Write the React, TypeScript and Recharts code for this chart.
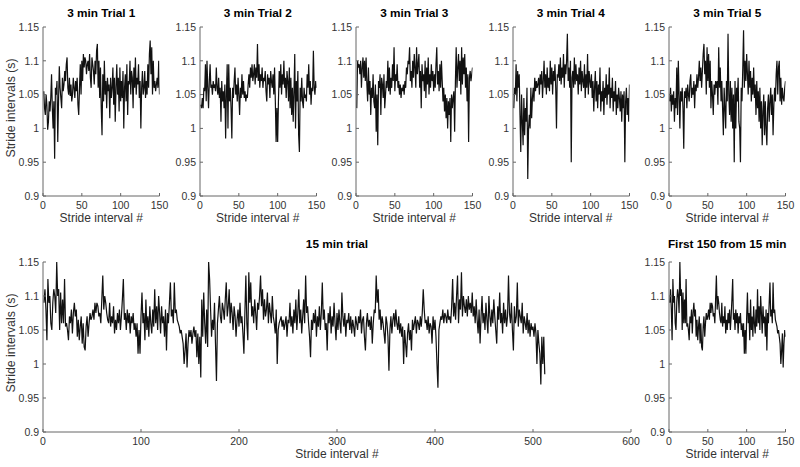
import { LineChart, Line, XAxis, YAxis } from "recharts";

// stride intervals, in milliseconds
const trial1 = [
  1055, 1030, 1020, 1050, 1035, 998, 1010, 1040, 1025, 1045,
  1080, 1030, 1000, 1040, 955, 1060, 1050, 1070, 980, 1040,
  1092, 1060, 1045, 1030, 1075, 1055, 1065, 1085, 1070, 1095,
  1105, 1060, 1050, 1075, 1048, 1065, 1040, 1050, 1075, 1060,
  1045, 1070, 1055, 1075, 1035, 1020, 1060, 1095, 1050, 1100,
  1070, 1110, 1090, 1105, 1100, 1080, 1095, 1100, 1085, 1110,
  1075, 1060, 1105, 1095, 1085, 1065, 1100, 1080, 1115, 1125,
  1060, 1100, 1045, 1090, 1030, 990, 1080, 1040, 1100, 1050,
  1070, 1030, 1075, 1055, 1065, 1015, 1075, 1045, 1060, 1090,
  1035, 1075, 1010, 1060, 1095, 1050, 1075, 1025, 1090, 1040,
  1070, 1045, 1085, 1000, 1060, 1080, 1040, 1095, 1020, 1070,
  1065, 1100, 1050, 1085, 1075, 1030, 1090, 1060, 1105, 1050,
  1075, 1065, 1095, 1045, 1070, 1000, 1060, 1085, 1050, 1060,
  1085, 1045, 1070, 1050, 1095, 1060, 1110, 1130, 1080, 1120,
  1050, 1100, 1060, 1070, 1055, 1065, 1075, 1060, 1100, 1050,
];

const trial2 = [
  1035, 1030, 1045, 1030, 1060, 1055, 1095, 1040, 1100, 1060,
  1030, 1070, 1095, 1060, 1065, 1050, 1070, 1060, 1065, 1055,
  1090, 1060, 1050, 1075, 1045, 1060, 1010, 1070, 1040, 1055,
  1030, 1065, 985, 1050, 1095, 1000, 1095, 1040, 1060, 1030,
  985, 1060, 1045, 1070, 1090, 1050, 1065, 1040, 1075, 1050,
  1020, 1060, 1045, 1080, 1050, 1070, 1045, 1055, 1040, 1050,
  1045, 1065, 1080, 1060, 1090, 1075, 1095, 1070, 1080, 1095,
  1065, 1090, 1075, 1125, 1070, 1095, 1060, 1080, 1070, 1090,
  1060, 1075, 1070, 1085, 1055, 1040, 1080, 1065, 1075, 1045,
  1085, 1070, 1060, 1080, 1050, 1090, 1040, 980, 1030, 980,
  1040, 1085, 1060, 1095, 1050, 1080, 1065, 1100, 1060, 1075,
  1045, 1085, 1070, 1040, 1090, 1030, 1075, 1020, 1060, 1010,
  1055, 1110, 1000, 1070, 1040, 1085, 990, 965, 1060, 1040,
  1075, 1040, 1030, 1060, 1045, 1050, 1040, 1080, 1060, 1095,
  1050, 1070, 1035, 1060, 1055, 1115, 1060, 1050, 1070, 1060,
];

const trial3 = [
  1030, 1100, 1090, 1095, 1080, 1100, 1060, 1090, 1105, 1075,
  1100, 1070, 1105, 1065, 1040, 1090, 1050, 1070, 1020, 1060,
  1045, 1080, 1040, 1030, 1065, 995, 1050, 975, 1070, 1060,
  1080, 1020, 1075, 1065, 1045, 1080, 1030, 1050, 1070, 1060,
  1100, 1055, 1090, 1050, 1075, 1060, 1095, 1070, 1120, 1055,
  1080, 1070, 1095, 1060, 1070, 1050, 1065, 1045, 1060, 1055,
  1065, 1050, 1070, 1060, 1090, 1080, 1100, 1095, 1120, 1070,
  1085, 1060, 1100, 1075, 1110, 1090, 1060, 1120, 1080, 1095,
  1110, 1060, 1085, 1030, 1095, 1070, 1080, 1055, 1100, 1045,
  1090, 1065, 1105, 1050, 1080, 1060, 1095, 1070, 1085, 1055,
  1080, 1060, 1095, 1120, 1065, 1085, 1055, 1095, 1060, 1100,
  1070, 1040, 1060, 1025, 1050, 1015, 1045, 1000, 1040, 1020,
  1045, 980, 1050, 1030, 1045, 1055, 995, 1070, 1120, 1060,
  1090, 1110, 1070, 1100, 1050, 1120, 1065, 1105, 1080, 1110,
  1060, 1090, 1040, 1080, 980, 1075, 1085, 1070, 1080, 1090,
];

const trial4 = [
  1030, 1060, 1050, 1095, 1040, 1085, 1060, 1080, 1020, 965,
  1050, 1010, 975, 1045, 990, 1030, 1010, 1060, 925, 1000,
  1020, 1000, 1060, 1015, 1045, 1060, 1040, 1075, 1055, 1070,
  1060, 1065, 1075, 1050, 1080, 1065, 1085, 1045, 1070, 1100,
  1060, 1080, 1050, 1090, 1060, 1075, 1055, 1100, 1065, 1090,
  1050, 1085, 1070, 1095, 1060, 1000, 1080, 1075, 1095, 1070,
  1105, 1065, 1090, 1075, 1110, 1060, 1095, 1080, 1100, 1140,
  1070, 1090, 1060, 1100, 950, 1075, 1085, 1060, 1105, 1065,
  1095, 1070, 1080, 1050, 1090, 1065, 1100, 1055, 1085, 1070,
  1060, 1095, 1045, 1080, 1060, 1110, 1050, 1085, 1070, 1060,
  1080, 1045, 1070, 1025, 1060, 1085, 1040, 1070, 1030, 1065,
  1050, 1090, 1025, 1055, 1040, 1070, 1020, 1060, 1045, 1080,
  1035, 1065, 1050, 1090, 1030, 1060, 1045, 1075, 1025, 1055,
  1040, 1070, 1020, 1050, 1030, 1060, 1045, 1025, 1055, 1010,
  1050, 1030, 1055, 950, 1040, 1060, 1020, 1045, 1010, 1065,
];

const trial5 = [
  1040, 1060, 1025, 1050, 1035, 1055, 1010, 1045, 1030, 1090,
  1020, 1100, 1050, 1000, 1055, 1040, 1060, 1030, 970, 1055,
  1045, 1060, 1030, 1065, 1050, 1040, 1070, 1080, 1045, 1060,
  1050, 1070, 1030, 1065, 1055, 1080, 1060, 1075, 1100, 1070,
  1090, 1060, 1085, 1110, 1125, 1080, 1100, 1050, 1120, 1070,
  1110, 1060, 1100, 1030, 1070, 1050, 1020, 1065, 1050, 1070,
  1060, 1070, 1035, 1120, 1060, 1090, 1040, 1070, 1030, 990,
  1060, 1030, 1000, 1070, 1040, 1140, 1050, 1020, 1070, 1010,
  1060, 1000, 1050, 950, 1070, 1000, 1060, 1040, 1075, 1010,
  1000, 950, 1060, 1040, 1090, 1145, 1060, 1100, 1070, 1110,
  1080, 1050, 1100, 1060, 1085, 1040, 1075, 1050, 1090, 1045,
  1065, 1020, 1070, 1030, 1055, 1010, 1060, 1000, 1040, 975,
  1025, 1050, 990, 1040, 1000, 975, 1030, 1050, 1010, 1040,
  1060, 1020, 1050, 990, 1035, 1060, 1040, 1080, 1100, 1050,
  1090, 1100, 1040, 1075, 1035, 1060, 1045, 1040, 1060, 1070,
];

const fifteenMin = [
  1090, 1110, 1080, 1035, 1125, 1090, 1100, 1060, 1050, 1090,
  1110, 1100, 1075, 1150, 1100, 1110, 1050, 1105, 1060, 1095,
  1060, 1125, 1055, 1060, 1050, 1035, 1070, 1060, 1080, 1045,
  1075, 1090, 1070, 1080, 1040, 1065, 1035, 1055, 1070, 1030,
  1060, 1025, 1020, 1055, 1070, 1040, 1060, 1075, 1065, 1070,
  1080, 1065, 1090, 1075, 1090, 1085, 1070, 1075, 1060, 1095,
  1130, 1080, 1100, 1090, 1075, 1065, 1060, 1090, 1055, 1070,
  1060, 1085, 1045, 1065, 1050, 1075, 1060, 1080, 1050, 1070,
  1095, 1125, 1065, 1075, 1050, 1080, 1060, 1075, 1045, 1070,
  1060, 1075, 1050, 1060, 1040, 1060, 1015, 1050, 1015, 1070,
  1105, 1060, 1075, 1035, 1095, 1050, 1070, 1040, 1085, 1060,
  1045, 1080, 1055, 1110, 1060, 1085, 1050, 1100, 1075, 1045,
  1085, 1060, 1070, 1040, 1080, 1020, 1075, 1060, 1090, 1120,
  1070, 1080, 1060, 1120, 1075, 1080, 1065, 1060, 1055, 1045,
  1050, 1040, 1030, 1000, 1020, 1045, 995, 1030, 1050, 1040,
  1050, 1030, 1045, 1055, 1040, 1050, 1010, 1045, 1000, 1040,
  980, 1095, 1040, 1105, 1060, 1030, 1080, 1025, 1150, 1125,
  1080, 1040, 1065, 1050, 1090, 1030, 975, 1060, 1080, 1100,
  1070, 1060, 1090, 1080, 1065, 1095, 1120, 1070, 1085, 1110,
  1060, 1090, 1075, 1050, 1085, 1070, 1040, 1065, 1080, 1055,
  1090, 1060, 1070, 1045, 1015, 1075, 1130, 1060, 1035, 1135,
  1090, 1120, 1070, 1085, 1060, 1095, 1075, 1050, 1090, 1080,
  1100, 1130, 1085, 1110, 1065, 1095, 1070, 1080, 1105, 1060,
  1090, 1075, 1060, 1100, 1070, 1060, 1045, 1080, 1000, 1050,
  1060, 1065, 1070, 1055, 1065, 1050, 1060, 1070, 1040, 1065,
  1060, 1090, 1055, 1070, 1045, 1080, 1060, 1095, 1050, 1075,
  1110, 1060, 1080, 1045, 1070, 1095, 1060, 1130, 1075, 1085,
  1060, 1040, 1010, 1065, 1050, 1075, 1060, 1080, 1040, 1070,
  1055, 1085, 1050, 1075, 1120, 1065, 1080, 1050, 1060, 1020,
  1075, 1060, 1085, 1045, 1070, 1055, 1090, 1060, 1035, 1075,
  1050, 1080, 1060, 1045, 1105, 1070, 1055, 1075, 1040, 1065,
  1060, 1075, 1050, 1070, 1045, 1065, 1055, 1040, 1070, 1060,
  1050, 1070, 1060, 1080, 1045, 1065, 1070, 1040, 1020, 1060,
  1075, 1055, 1065, 1050, 1070, 1030, 1060, 1080, 1075, 1130,
  1090, 1110, 1065, 1080, 1050, 1070, 1060, 1045, 1030, 1070,
  1060, 1040, 990, 1050, 1070, 1045, 1065, 1075, 1055, 1080,
  1060, 1050, 1070, 1045, 1060, 1040, 1055, 1000, 1050, 1030,
  1010, 1045, 1060, 1035, 1050, 1020, 1065, 1050, 1060, 1070,
  1045, 1065, 1060, 1050, 1070, 1055, 1075, 1110, 1080, 1060,
  1065, 1050, 1070, 1045, 1060, 1055, 1030, 1070, 1050, 1065,
  1040, 1000, 965, 1050, 1060, 1070, 1065, 1080, 1060, 1075,
  1070, 1060, 1080, 1065, 1070, 1060, 1085, 1125, 1070, 1090,
  1065, 1100, 1130, 1060, 1095, 1080, 1135, 1070, 1100, 1085,
  1075, 1095, 1070, 1100, 1080, 1090, 1075, 1105, 1070, 1085,
  1060, 1095, 1065, 1045, 1080, 1030, 1070, 1100, 1060, 1075,
  1050, 1090, 1065, 1045, 1100, 1070, 1055, 1080, 1060, 1095,
  1070, 1050, 1030, 1085, 1065, 1105, 1060, 1075, 1045, 1090,
  1060, 1080, 1055, 1070, 1130, 1075, 1060, 1090, 1050, 1020,
  1085, 1060, 1070, 1120, 1055, 1080, 1070, 1060, 1090, 1045,
  1070, 1060, 1050, 1075, 1045, 1065, 1040, 1060, 1050, 1055,
  1040, 1060, 1045, 1000, 1050, 1030, 1015, 970, 1040, 1000,
  1040, 985,
];

const first150 = fifteenMin.slice(0, 150);

const yTicks = [0.9, 0.95, 1, 1.05, 1.1, 1.15];
const shortTicks = [0, 50, 100, 150];
const longTicks = [0, 100, 200, 300, 400, 500, 600];

const AXIS = "#666";
const TEXT = "#333";
const FONT = '"Liberation Sans", Arial, Helvetica, sans-serif';

function toRows(ms: number[]) {
  return ms.map((v, i) => ({ n: i + 1, v: v / 1000 }));
}

function XTick({ x, y, payload }: any) {
  return (
    <g>
      <line x1={x} x2={x} y1={y} y2={y - 3} stroke={AXIS} />
      <text x={x} y={y + 13} textAnchor="middle" fontSize={10.5} fill={TEXT} fontFamily={FONT}>
        {payload.value}
      </text>
    </g>
  );
}

function YTick({ x, y, payload }: any) {
  return (
    <g>
      <line x1={x} x2={x + 3} y1={y} y2={y} stroke={AXIS} />
      <text x={x - 4} y={y + 3.8} textAnchor="end" fontSize={10.5} fill={TEXT} fontFamily={FONT}>
        {payload.value}
      </text>
    </g>
  );
}

type PanelProps = {
  title: string;
  values: number[];
  left: number;
  top: number;
  width: number;
  height: number;
  titleY: number;
  xMax: number;
  xTicks: number[];
  yLabel?: boolean;
};

function Panel({ title, values, left, top, width, height, titleY, xMax, xTicks, yLabel }: PanelProps) {
  const yw = 45;
  const xh = 35;
  const mt = 6;
  const mr = 16;
  const data = toRows(values);
  return (
    <>
      <div
        style={{
          position: "absolute",
          left: left - 40,
          width: width + 80,
          top: titleY - 7,
          lineHeight: "14px",
          textAlign: "center",
          fontWeight: "bold",
          fontSize: 11.8,
          color: "#000",
          whiteSpace: "nowrap",
        }}
      >
        {title}
      </div>
      <div style={{ position: "absolute", left: left - yw, top: top - mt }}>
        <LineChart
          width={width + yw + mr}
          height={height + mt + xh}
          data={data}
          margin={{ top: mt, right: mr, bottom: 0, left: 0 }}
        >
          <XAxis
            type="number"
            dataKey="n"
            domain={[0, xMax]}
            ticks={xTicks}
            interval={0}
            allowDataOverflow
            height={xh}
            tickSize={0}
            tickMargin={0}
            tickLine={false}
            axisLine={{ stroke: AXIS }}
            tick={<XTick />}
          />
          <YAxis
            type="number"
            domain={[0.9, 1.15]}
            ticks={yTicks}
            interval={0}
            allowDataOverflow
            width={yw}
            tickSize={0}
            tickMargin={0}
            tickLine={false}
            axisLine={{ stroke: AXIS }}
            tick={<YTick />}
          />
          <Line
            type="linear"
            dataKey="v"
            stroke="#111"
            strokeWidth={1.2}
            dot={false}
            isAnimationActive={false}
          />
        </LineChart>
      </div>
      <div
        style={{
          position: "absolute",
          left,
          width,
          top: top + height + 15,
          lineHeight: "14px",
          textAlign: "center",
          fontSize: 12,
          color: TEXT,
          whiteSpace: "nowrap",
        }}
      >
        Stride interval #
      </div>
      {yLabel && (
        <div
          style={{
            position: "absolute",
            left: 11 - 80,
            width: 160,
            top: top + height / 2 - 4 - 7,
            lineHeight: "14px",
            textAlign: "center",
            fontSize: 12.3,
            color: TEXT,
            transform: "rotate(-90deg)",
            whiteSpace: "nowrap",
          }}
        >
          Stride intervals (s)
        </div>
      )}
    </>
  );
}

const topLefts = [43, 199.5, 356, 512.5, 669];
const topTrials = [trial1, trial2, trial3, trial4, trial5];

export default function App() {
  return (
    <div
      style={{
        position: "absolute",
        left: 0,
        top: 0,
        width: 800,
        height: 467,
        background: "#fff",
        fontFamily: FONT,
        overflow: "hidden",
      }}
    >
      {topTrials.map((vals, i) => (
        <Panel
          key={i}
          title={`3 min Trial ${i + 1}`}
          values={vals}
          left={topLefts[i]}
          top={27}
          width={116.5}
          height={169}
          titleY={12.5}
          xMax={150}
          xTicks={shortTicks}
          yLabel={i === 0}
        />
      ))}
      <Panel
        title="15 min trial"
        values={fifteenMin}
        left={43}
        top={262}
        width={588}
        height={170}
        titleY={244}
        xMax={600}
        xTicks={longTicks}
        yLabel
      />
      <Panel
        title="First 150 from 15 min"
        values={first150}
        left={669}
        top={262}
        width={116.5}
        height={170}
        titleY={244}
        xMax={150}
        xTicks={shortTicks}
      />
    </div>
  );
}
